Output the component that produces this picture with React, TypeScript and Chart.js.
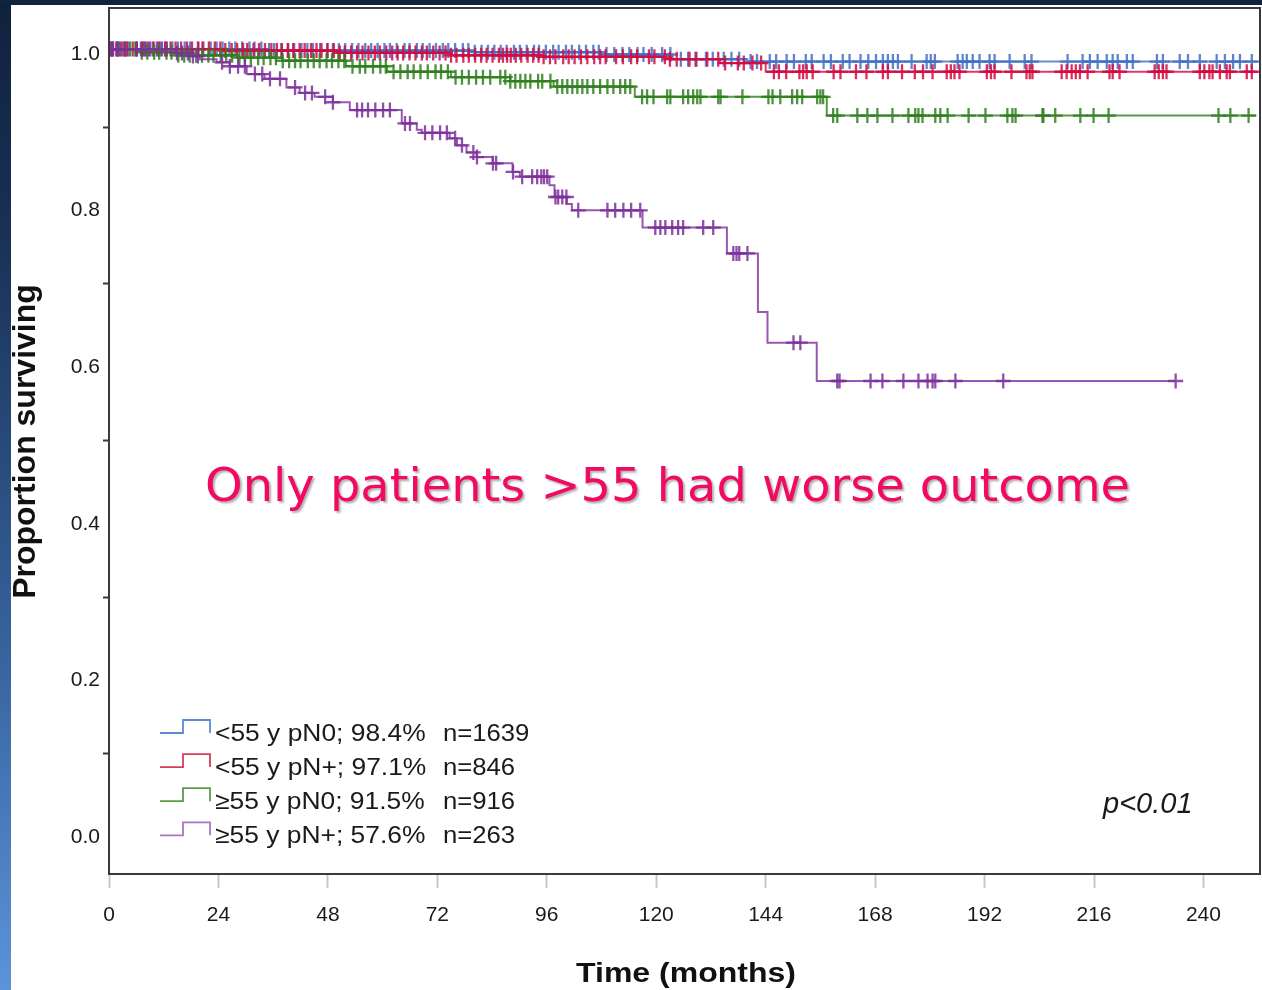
import React, { useEffect, useRef } from 'react';
import { Chart, registerables } from 'chart.js';

Chart.register(...registerables);

// ---------- data ----------
const X_TICKS = [0, 24, 48, 72, 96, 120, 144, 168, 192, 216, 240];
const Y_TICKS = [0, 0.1, 0.2, 0.3, 0.4, 0.5, 0.6, 0.7, 0.8, 0.9, 1.0];

const SERIES_LABELS = ['<55 y pN0; 98.4%', '<55 y pN+; 97.1%', '\u226555 y pN0; 91.5%', '\u226555 y pN+; 57.6%'];
const SERIES_N = ['n=1639', 'n=846', 'n=916', 'n=263'];
const SERIES_COLORS = ['#3f6fc8', '#d20a40', '#2e7f1c', '#7c2f9c'];
const LEGEND_COLORS = ['#5b8ad2', '#d83a5e', '#5a9d48', '#a976c4'];

const ANNOTATION = 'Only patients >55 had worse outcome';
const P_VALUE = 'p<0.01';
const X_TITLE = 'Time (months)';
const Y_TITLE = 'Proportion surviving';

// <55 y pN0 (blue)
const BLUE_STEP_T = [35, 80, 108, 123.6, 140];
const BLUE_STEP_S = [0.998, 0.996, 0.993, 0.987, 0.984];
const BLUE_END = 251.8;
const BLUE_CENSOR = [
  0.8, 2.1, 3.5, 4.2, 5.9, 7.3, 8.1, 9.6, 11.2, 12.4, 13.9, 15.1, 16.6, 17.8, 19.5, 20.7, 22.3, 23.6, 24.9, 26.4,
  27.7, 29.2, 30.8, 31.9, 33.4, 35.1, 36.2, 37.8, 39.3, 40.6, 42.2, 43.5, 44.7, 46.3, 47.9, 49.1, 50.4, 51.8, 53.3,
  54.7, 56.2, 57.5, 58.9, 60.4, 61.6, 63.1, 64.8, 65.9, 67.5, 68.8, 70.3, 71.7, 73.2, 74.4, 75.9, 77.6, 78.8, 80.2,
  81.7, 83.1, 84.5, 85.9, 87.2, 88.8, 90.1, 91.6, 93.2, 94.3, 95.8, 97.4, 98.6, 100.2, 101.5, 103.1, 104.6, 106.2,
  107.4, 109.1, 110.8, 112.6, 114.1, 115.9, 117.2, 119.0, 121.3, 123.1, 125.4, 127.0, 128.6, 130.9, 132.4, 134.8,
  136.5, 138.2, 140.7, 142.1, 144.9, 146.3, 148.6, 150.2, 152.8, 154.1, 156.7, 158.3, 160.9, 162.4, 164.8, 166.5,
  168.2, 169.7, 170.8, 171.9, 173.0, 176.0, 179.3, 180.2, 181.1, 186.1, 187.2, 188.1, 189.4, 190.9, 193.1, 194.2,
  197.5, 200.8, 202.3, 210.2, 213.5, 215.1, 216.8, 218.8, 220.1, 221.2, 223.2, 224.5, 229.8, 231.1, 234.8, 236.6,
  239.2, 242.9, 244.7, 246.5, 248.0, 250.6,
];

// <55 y pN+ (red)
const RED_STEP_T = [25, 50, 75, 95, 122, 134, 144];
const RED_STEP_S = [0.998, 0.995, 0.992, 0.99, 0.987, 0.982, 0.971];
const RED_END = 251.8;
const RED_CENSOR = [
  0.5, 1.6, 2.8, 3.9, 5.2, 6.1, 7.5, 8.6, 9.8, 10.9, 12.3, 13.5, 14.6, 15.8, 17.1, 18.2, 19.6, 20.5, 21.9, 23.2,
  24.4, 25.5, 26.9, 28.1, 29.4, 30.3, 31.7, 32.9, 34.2, 35.6, 36.8, 37.9, 39.2, 40.4, 41.8, 42.9, 44.3, 45.5, 46.6,
  47.9, 49.3, 50.6, 51.7, 53.1, 54.4, 55.6, 56.9, 58.3, 59.4, 60.8, 62.1, 63.3, 64.5, 65.9, 67.2, 68.6, 69.7, 71.1,
  72.5, 73.8, 75.0, 76.2, 77.7, 78.9, 80.3, 81.6, 82.8, 84.1, 85.5, 86.4, 87.3, 88.1, 89.2, 90.4, 91.8, 93.0, 94.2,
  95.3, 96.7, 97.9, 99.6, 100.8, 102.1, 103.5, 104.9, 106.4, 107.7, 108.9, 111.2, 112.7, 114.5, 115.8, 118.4, 119.6,
  121.9, 123.0, 124.5, 127.3, 128.8, 131.2, 133.6, 135.1, 137.9, 139.2, 141.1, 143.0, 145.8, 146.9, 148.5, 151.4,
  152.2, 153.0, 154.3, 158.9, 160.4, 163.8, 166.1, 169.7, 170.8, 173.9, 176.7, 178.5, 180.6, 183.7, 184.6, 185.4,
  186.5, 192.5, 193.4, 194.2, 197.9, 201.2, 201.9, 202.5, 208.9, 210.0, 211.1, 212.0, 212.9, 214.6, 219.4, 220.1,
  221.6, 229.3, 230.2, 231.1, 231.9, 239.2, 240.2, 241.3, 242.0, 243.6, 245.1, 245.8, 249.5, 250.6,
];

// >=55 y pN0 (green)
const GREEN_STEP_T = [6, 15, 28, 38, 52, 61, 75, 88, 97.5, 115.3, 157.4];
const GREEN_STEP_S = [0.996, 0.992, 0.989, 0.985, 0.978, 0.971, 0.964, 0.959, 0.952, 0.939, 0.915];
const GREEN_END = 251.6;
const GREEN_CENSOR = [
  0.7, 1.9, 3.3, 4.6, 5.8, 7.2, 8.4, 9.9, 11.0, 12.6, 13.7, 15.2, 16.5, 17.7, 19.1, 20.4, 21.8, 22.9, 24.5, 25.7,
  27.0, 28.6, 29.8, 31.1, 32.7, 33.9, 35.4, 36.6, 38.1, 39.5, 40.8, 42.0, 43.6, 44.9, 46.2, 47.7, 48.9, 50.3, 51.6,
  53.4, 55.0, 56.2, 57.9, 59.5, 60.7, 62.4, 63.9, 65.5, 66.8, 68.3, 69.9, 71.6, 72.8, 74.3, 76.0, 77.4, 78.9, 80.5,
  82.0, 83.6, 85.8, 86.9, 88.0, 89.1, 90.2, 91.3, 92.4, 94.1, 95.0, 96.8, 98.3, 99.4, 100.5, 101.6, 102.7, 103.8,
  104.9, 106.2, 107.7, 109.3, 110.6, 112.1, 113.2, 114.3, 116.9, 118.0, 119.4, 122.4, 123.1, 125.9, 127.0, 128.1,
  129.0, 129.7, 133.6, 134.1, 138.9, 144.6, 145.5, 147.2, 149.8, 150.9, 152.0, 155.3, 156.0, 156.6, 158.8, 159.7,
  164.1, 166.3, 168.5, 171.8, 175.3, 176.8, 177.5, 178.4, 181.2, 182.3, 183.9, 188.5, 192.2, 197.0, 198.1, 198.8,
  204.7, 204.9, 207.5, 213.0, 215.9, 219.2, 243.3, 245.9, 249.9,
];

// >=55 y pN+ (purple)
const PURPLE_STEP_T = [
  14.9, 17.7, 19.9, 23.6, 26.5, 30.2, 34.1, 38.9, 41.8, 45.1, 49.1, 52.8, 64.2, 67.5, 68.6, 74.7, 76.3, 78.4, 80.6,
  84.1, 88.5, 90.1, 96.6, 97.7, 100.4, 101.5, 117, 135.5, 142.3, 144.4, 155.2,
];
const PURPLE_STEP_S = [
  0.995, 0.991, 0.987, 0.983, 0.978, 0.968, 0.962, 0.951, 0.944, 0.939, 0.932, 0.922, 0.905, 0.897, 0.893, 0.886,
  0.877, 0.868, 0.862, 0.854, 0.843, 0.837, 0.826, 0.811, 0.802, 0.794, 0.772, 0.739, 0.664, 0.625, 0.576,
];
const PURPLE_END = 233.9;
const PURPLE_CENSOR = [
  0.4, 0.9, 1.8, 2.4, 3.5, 6.1, 7.0, 7.9, 9.0, 10.5, 11.6, 12.7, 14.9, 16.0, 17.3, 18.4, 19.5, 24.8, 26.5, 28.3,
  29.8, 32.0, 33.6, 35.3, 37.5, 40.8, 43.0, 44.5, 47.4, 49.1, 54.4, 55.5, 56.8, 58.4, 60.1, 61.6, 64.9, 66.0, 69.3,
  70.9, 72.6, 74.1, 75.9, 77.4, 79.9, 80.7, 84.2, 84.9, 88.6, 90.6, 92.8, 93.9, 94.8, 95.4, 96.1, 97.9, 98.5, 99.4,
  100.3, 102.9, 109.3, 111.0, 112.8, 114.5, 116.5, 119.8, 120.9, 122.0, 123.5, 124.8, 125.9, 130.3, 132.5, 136.9,
  137.6, 138.2, 140.0, 150.1, 151.6, 159.7, 160.2, 167.0, 169.6, 174.2, 177.5, 179.5, 180.6, 181.2, 185.6, 196.1,
  233.9,
];

// ---------- helpers ----------
const stepAt = (times: number[], surv: number[], t: number) => {
  let s = 1;
  for (let i = 0; i < times.length; i++) if (times[i] <= t) s = surv[i];
  return s;
};
const makeLine = (times: number[], surv: number[], end: number) => [
  { x: 0, y: 1 },
  ...times.map((t, i) => ({ x: t, y: surv[i] })),
  { x: end, y: surv[surv.length - 1] },
];
const makeCensor = (times: number[], surv: number[], cens: number[]) =>
  cens.map((t) => ({ x: t, y: stepAt(times, surv, t) }));

const hexA = (hex: string, a: number) => {
  const n = parseInt(hex.slice(1), 16);
  return `rgba(${(n >> 16) & 255},${(n >> 8) & 255},${n & 255},${a})`;
};

const SERIES = [
  { t: PURPLE_STEP_T, s: PURPLE_STEP_S, end: PURPLE_END, c: PURPLE_CENSOR, color: SERIES_COLORS[3] },
  { t: GREEN_STEP_T, s: GREEN_STEP_S, end: GREEN_END, c: GREEN_CENSOR, color: SERIES_COLORS[2] },
  { t: RED_STEP_T, s: RED_STEP_S, end: RED_END, c: RED_CENSOR, color: SERIES_COLORS[1] },
  { t: BLUE_STEP_T, s: BLUE_STEP_S, end: BLUE_END, c: BLUE_CENSOR, color: SERIES_COLORS[0] },
];

function drawText(
  ctx: CanvasRenderingContext2D,
  text: string,
  x: number,
  y: number,
  font: string,
  color: string,
  align: CanvasTextAlign,
  scaleX = 1,
) {
  ctx.save();
  ctx.font = font;
  ctx.fillStyle = color;
  ctx.textAlign = align;
  ctx.textBaseline = 'alphabetic';
  ctx.translate(x, y);
  ctx.scale(scaleX, 1);
  ctx.fillText(text, 0, 0);
  ctx.restore();
}

const decorPlugin = {
  id: 'decor',
  beforeDraw(chart: any) {
    const { ctx, width, height } = chart;
    ctx.save();
    ctx.fillStyle = '#ffffff';
    ctx.fillRect(0, 0, width, height);
    const g = ctx.createLinearGradient(0, 0, 0, height);
    g.addColorStop(0, '#10213d');
    g.addColorStop(0.25, '#1a3257');
    g.addColorStop(0.65, '#36629c');
    g.addColorStop(1, '#5b93da');
    ctx.fillStyle = g;
    ctx.fillRect(0, 0, 11, height);
    ctx.fillStyle = '#12233f';
    ctx.fillRect(0, 0, width, 5);
    ctx.restore();
  },
  afterDatasetsDraw(chart: any) {
    const { ctx, chartArea: a } = chart;
    ctx.save();
    ctx.strokeStyle = '#3a3a3a';
    ctx.lineWidth = 2;
    ctx.strokeRect(a.left, a.top, a.right - a.left, a.bottom - a.top);
    ctx.restore();
  },
  afterDraw(chart: any) {
    const { ctx } = chart;
    // legend
    for (let i = 0; i < SERIES_LABELS.length; i++) {
      const low = 733 + i * 34.1;
      ctx.save();
      ctx.strokeStyle = LEGEND_COLORS[i];
      ctx.lineWidth = 1.8;
      ctx.beginPath();
      ctx.moveTo(160, low);
      ctx.lineTo(183, low);
      ctx.lineTo(183, low - 13);
      ctx.lineTo(210, low - 13);
      ctx.lineTo(210, low);
      ctx.stroke();
      ctx.restore();
      drawText(ctx, SERIES_LABELS[i], 215, low + 8, '24px "Liberation Sans", Arial, sans-serif', '#1a1a1a', 'left', 1.1);
      drawText(ctx, SERIES_N[i], 443, low + 8, '24px "Liberation Sans", Arial, sans-serif', '#1a1a1a', 'left', 1.07);
    }
    // p value
    drawText(ctx, P_VALUE, 1103, 813, 'italic 29px "Liberation Sans", Arial, sans-serif', '#1a1a1a', 'left');
    // axis titles
    ctx.save();
    ctx.font = 'bold 28px "Liberation Sans", Arial, sans-serif';
    const xtw = ctx.measureText(X_TITLE).width;
    ctx.restore();
    drawText(ctx, X_TITLE, 576, 982, 'bold 28px "Liberation Sans", Arial, sans-serif', '#111', 'left', 220 / xtw);
    ctx.save();
    ctx.translate(35, 441.5);
    ctx.rotate(-Math.PI / 2);
    drawText(ctx, Y_TITLE, 0, 0, 'bold 32px "Liberation Sans", Arial, sans-serif', '#111', 'center');
    ctx.restore();
    // annotation
    ctx.save();
    const afont = '46px "DejaVu Sans", Verdana, sans-serif';
    ctx.font = afont;
    const aw = ctx.measureText(ANNOTATION).width;
    ctx.shadowColor = 'rgba(0,0,0,0.3)';
    ctx.shadowOffsetX = 2;
    ctx.shadowOffsetY = 2;
    ctx.shadowBlur = 2;
    drawText(ctx, ANNOTATION, 205, 501, afont, '#f20a62', 'left', 925 / aw);
    ctx.restore();
  },
};

export default function App() {
  const ref = useRef<HTMLCanvasElement>(null);

  useEffect(() => {
    const datasets: any[] = [];
    SERIES.forEach((sr, i) => {
      datasets.push({
        label: 'censor' + i,
        data: makeCensor(sr.t, sr.s, sr.c),
        showLine: false,
        pointStyle: 'cross',
        pointRadius: 7.5,
        pointBorderWidth: 2.3,
        pointBorderColor: hexA(sr.color, 0.85),
        pointBackgroundColor: hexA(sr.color, 0.85),
      });
      datasets.push({
        label: 'line' + i,
        data: makeLine(sr.t, sr.s, sr.end),
        showLine: true,
        stepped: 'before',
        borderColor: hexA(sr.color, 0.8),
        borderWidth: 2,
        pointRadius: 0,
        fill: false,
      });
    });

    const chart = new Chart(ref.current as HTMLCanvasElement, {
      type: 'scatter',
      data: { datasets },
      options: {
        responsive: false,
        animation: false,
        devicePixelRatio: 1,
        events: [],
        layout: { autoPadding: false, padding: { left: 0, right: 2, top: 8, bottom: 0 } },
        plugins: { legend: { display: false }, tooltip: { enabled: false }, title: { display: false } },
        scales: {
          x: {
            type: 'linear',
            min: 0,
            max: 252.4,
            afterBuildTicks: (s: any) => {
              s.ticks = X_TICKS.map((v) => ({ value: v }));
            },
            afterFit: (s: any) => {
              s.height = 116;
              s.paddingLeft = 0;
              s.paddingRight = 0;
            },
            border: { display: false },
            grid: { drawOnChartArea: false, drawTicks: true, tickLength: 14, tickColor: '#c8c8c8', tickWidth: 2 },
            ticks: {
              autoSkip: false,
              maxRotation: 0,
              padding: 15,
              color: '#1a1a1a',
              font: { family: '"Liberation Sans", Arial, sans-serif', size: 21 },
            },
          },
          y: {
            type: 'linear',
            min: -0.0536,
            max: 1.0524,
            afterBuildTicks: (s: any) => {
              s.ticks = Y_TICKS.map((v) => ({ value: v }));
            },
            afterFit: (s: any) => {
              s.width = 109;
              s.paddingTop = 0;
              s.paddingBottom = 0;
            },
            border: { display: false },
            grid: {
              drawOnChartArea: false,
              drawTicks: true,
              tickLength: 6,
              tickWidth: 2,
              tickColor: (c: any) => {
                if (!c.tick) return 'rgba(0,0,0,0)';
                const k = Math.round(c.tick.value * 10);
                return k % 2 ? '#3a3a3a' : 'rgba(0,0,0,0)';
              },
            },
            ticks: {
              autoSkip: false,
              padding: 3,
              labelOffset: 5,
              color: '#1a1a1a',
              font: { family: '"Liberation Sans", Arial, sans-serif', size: 21 },
              callback: (v: any) => {
                const k = Math.round(Number(v) * 10);
                return k % 2 === 0 ? (k / 10).toFixed(1) : '';
              },
            },
          },
        },
      } as any,
      plugins: [decorPlugin],
    });
    return () => chart.destroy();
  }, []);

  return (
    <div style={{ position: 'absolute', left: 0, top: 0, width: 1262, height: 990 }}>
      <canvas ref={ref} width={1262} height={990} style={{ display: 'block' }} />
    </div>
  );
}
